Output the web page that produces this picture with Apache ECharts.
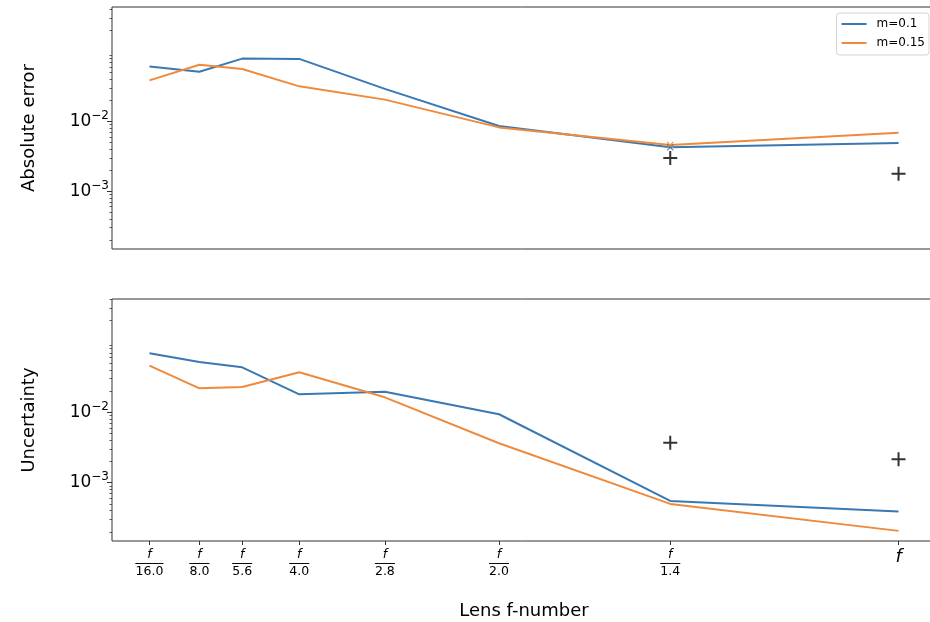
<!DOCTYPE html>
<html>
<head>
<meta charset="utf-8">
<script src="https://cdn.jsdelivr.net/npm/echarts@6/dist/echarts.min.js"></script>
<style>html,body{margin:0;padding:0;background:#fff;}#chart{width:930px;height:622px;}</style>
</head>
<body>
<div id="chart"></div>
<script>
// ---- data ----
var fNumbers = [16.0, 8.0, 5.6, 4.0, 2.8, 2.0, 1.4, 1];
var tickLabels = ['16.0', '8.0', '5.6', '4.0', '2.8', '2.0', '1.4', ''];
var seriesNames = ['m=0.1', 'm=0.15'];
var errorM01  = [0.0610, 0.0516, 0.0794, 0.0786, 0.0292, 0.00859, 0.00424, 0.00490];
var errorM015 = [0.0387, 0.0650, 0.0565, 0.0318, 0.0205, 0.00820, 0.00458, 0.00689];
var uncM01    = [0.0689, 0.0518, 0.0435, 0.0180, 0.0196, 0.00937, 0.000549, 0.000388];
var uncM015   = [0.0459, 0.0219, 0.0229, 0.0370, 0.0163, 0.00363, 0.000498, 0.000206];
var refF = [1.4, 1];
var errorRef = [0.00299, 0.00178];
var uncRef = [0.00370, 0.00215];
var threshold = 0.001;
var yMajorTicks = [0.001, 0.01];
var yMinorTicks = [2e-4,3e-4,4e-4,5e-4,6e-4,7e-4,8e-4,9e-4,
                   2e-3,3e-3,4e-3,5e-3,6e-3,7e-3,8e-3,9e-3,
                   2e-2,3e-2,4e-2,5e-2,6e-2,7e-2,8e-2,9e-2,
                   2e-1,3e-1,4e-1];
var markedIndex = 6; // f/1.4 point carries an x marker in the top panel

// ---- helpers ----
var xValues = fNumbers.map(function (n) { return 1 / n; });
var xMin = 0.015625, xMax = 1.046875;
var topRange = [Math.pow(10, -3.83), Math.pow(10, -0.36)];
var botRange = [Math.pow(10, -3.83), Math.pow(10, -0.39)];
var blue = '#3a78b2', orange = '#ef8a3c';
var FONT = 'DejaVu Sans';
var plusPath = 'path://M6,0h2v14h-2zM0,6h14v2h-14z';
var xPath = 'path://M0,1L1,0L5,4L9,0L10,1L6,5L10,9L9,10L5,6L1,10L0,9L4,5Z';

function pairs(vals, withMarker, color) {
  return vals.map(function (v, i) {
    var item = { value: [xValues[i], v] };
    if (withMarker && i === markedIndex) {
      item.symbol = xPath; item.symbolSize = 7;
      item.itemStyle = { color: color };
    }
    return item;
  });
}
function refPairs(vals) {
  return vals.map(function (v, i) { return [1 / refF[i], v]; });
}
function xLabelFmt(value) {
  var best = 0, d = Infinity;
  for (var i = 0; i < xValues.length; i++) {
    var dd = Math.abs(xValues[i] - value);
    if (dd < d) { d = dd; best = i; }
  }
  if (fNumbers[best] === 1) return '{F|f}';
  return '{f|f}\n{hr|}\n{n|' + tickLabels[best] + '}';
}
function yLabelFmt(value) {
  var e = Math.round(Math.log(value) / Math.LN10);
  return '{b|10}{s|\u2212' + Math.abs(e) + '}';
}
var yLabelRich = {
  b: { fontFamily: FONT, fontSize: 17, color: '#000', lineHeight: 17, verticalAlign: 'bottom' },
  s: { fontFamily: FONT, fontSize: 12, color: '#000', lineHeight: 12, padding: [0, 0, 8, 0], verticalAlign: 'bottom' }
};
function majorY(gridIndex, range, name) {
  return {
    type: 'log', logBase: 10, gridIndex: gridIndex, position: 'left',
    min: range[0], max: range[1],
    axisLine: { show: false },
    splitLine: { show: false },
    axisTick: { show: true, customValues: yMajorTicks, length: 5, lineStyle: { color: '#333', width: 1 } },
    axisLabel: { show: true, customValues: yMajorTicks, formatter: yLabelFmt, margin: 3, rich: yLabelRich },
    name: name, nameLocation: 'middle', nameGap: 74, nameRotate: 90,
    nameTextStyle: { fontFamily: FONT, fontSize: 18, color: '#000' }
  };
}
function minorY(gridIndex, range) {
  return {
    type: 'log', logBase: 10, gridIndex: gridIndex, position: 'left',
    min: range[0], max: range[1],
    axisLine: { show: false },
    splitLine: { show: false },
    axisTick: { show: true, customValues: yMinorTicks, length: 2.5, lineStyle: { color: '#333', width: 0.8 } },
    axisLabel: { show: false }
  };
}

var chart = echarts.init(document.getElementById('chart'), null, { renderer: 'canvas' });
chart.setOption({
  animation: false,
  backgroundColor: '#fff',
  grid: [
    { left: 112, width: 824, top: 7, height: 242, outerBoundsMode: 'none', containLabel: false,
      show: true, borderColor: '#333', borderWidth: 1, backgroundColor: 'transparent' },
    { left: 112, width: 824, top: 299, height: 242, outerBoundsMode: 'none', containLabel: false,
      show: true, borderColor: '#333', borderWidth: 1, backgroundColor: 'transparent' }
  ],
  legend: {
    data: seriesNames,
    orient: 'vertical', right: 1, top: 13,
    icon: 'rect', itemWidth: 25, itemHeight: 2, itemGap: 5,
    padding: [4, 4, 5, 5],
    borderColor: '#d5d5d5', borderWidth: 1, borderRadius: 3,
    backgroundColor: 'rgba(255,255,255,0.8)',
    textStyle: { fontFamily: FONT, fontSize: 12, color: '#000', lineHeight: 14, padding: [0, 0, 0, 5] }
  },
  xAxis: [
    { type: 'value', gridIndex: 0, min: xMin, max: xMax,
      axisLine: { show: false }, axisTick: { show: false }, axisLabel: { show: false }, splitLine: { show: false } },
    { type: 'value', gridIndex: 1, min: xMin, max: xMax,
      axisLine: { show: false }, splitLine: { show: false },
      axisTick: { show: true, customValues: xValues, length: 4, lineStyle: { color: '#333', width: 1 } },
      axisLabel: {
        show: true, customValues: xValues, formatter: xLabelFmt, margin: 7,
        rich: {
          f: { fontFamily: FONT, fontStyle: 'italic', fontSize: 12.5, color: '#000', lineHeight: 14, align: 'center' },
          hr: { width: '100%', height: 0, lineHeight: 3, align: 'left', borderColor: '#000', borderWidth: 0.8 },
          n: { fontFamily: FONT, fontSize: 12.5, color: '#000', lineHeight: 14, align: 'center' },
          F: { fontFamily: FONT, fontStyle: 'italic', fontSize: 18, color: '#000', lineHeight: 18 }
        }
      },
      name: 'Lens f-number', nameLocation: 'middle', nameGap: 61,
      nameTextStyle: { fontFamily: FONT, fontSize: 18, color: '#000' }
    }
  ],
  yAxis: [
    majorY(0, topRange, 'Absolute error'),
    minorY(0, topRange),
    majorY(1, botRange, 'Uncertainty'),
    minorY(1, botRange)
  ],
  series: [
    { name: seriesNames[0], type: 'line', xAxisIndex: 0, yAxisIndex: 0, data: pairs(errorM01, true, blue),
      symbol: 'none', showSymbol: true, color: blue, lineStyle: { width: 2, color: blue },
      markLine: { silent: true, symbol: 'none', label: { show: false },
        lineStyle: { color: '#000', type: [9, 4], width: 2 }, data: [{ yAxis: threshold }] } },
    { name: seriesNames[1], type: 'line', xAxisIndex: 0, yAxisIndex: 0, data: pairs(errorM015, true, orange),
      symbol: 'none', showSymbol: true, color: orange, lineStyle: { width: 2, color: orange } },
    { name: 'ref-error', type: 'scatter', xAxisIndex: 0, yAxisIndex: 0, data: refPairs(errorRef),
      symbol: plusPath, symbolSize: 14, itemStyle: { color: '#000' } },
    { name: seriesNames[0], type: 'line', xAxisIndex: 1, yAxisIndex: 2, data: pairs(uncM01, false, blue),
      symbol: 'none', color: blue, lineStyle: { width: 2, color: blue } },
    { name: seriesNames[1], type: 'line', xAxisIndex: 1, yAxisIndex: 2, data: pairs(uncM015, false, orange),
      symbol: 'none', color: orange, lineStyle: { width: 2, color: orange } },
    { name: 'ref-unc', type: 'scatter', xAxisIndex: 1, yAxisIndex: 2, data: refPairs(uncRef),
      symbol: plusPath, symbolSize: 14, itemStyle: { color: '#000' } }
  ]
});
</script>
</body>
</html>
